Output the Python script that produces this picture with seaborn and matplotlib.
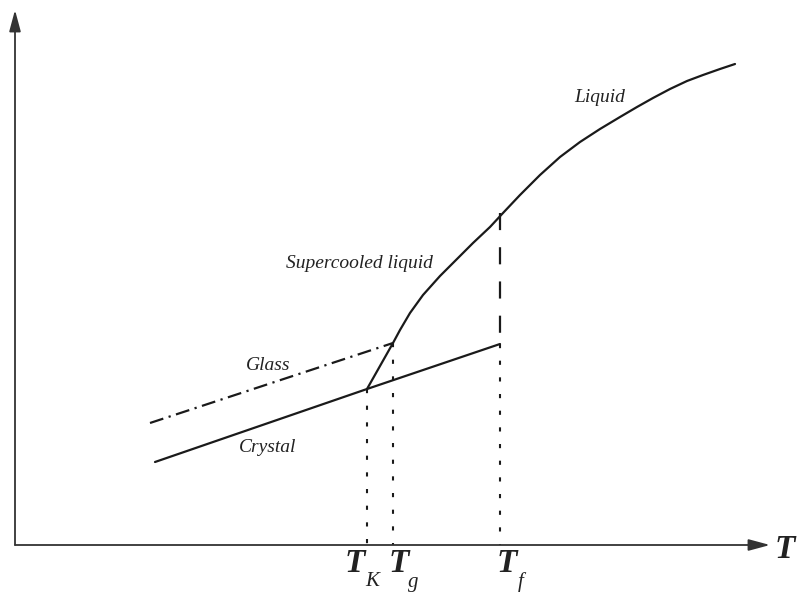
import matplotlib
matplotlib.use("Agg")
import matplotlib.pyplot as plt
import seaborn as sns

# ---- data (schematic volume vs temperature, in plot units) ----
crystal_T = [155, 367, 500]
crystal_V = [132, 205, 250]

glass_T = [150, 393]
glass_V = [171, 251]

liquid_T = [367, 393, 400, 410, 423, 440, 457, 473, 490, 503, 520, 540, 560,
            580, 600, 620, 637, 653, 670, 687, 703, 720, 735]
liquid_V = [205, 251, 264, 281, 299, 318, 335, 351, 367, 381, 399, 419, 437,
            452, 465, 477, 487, 496, 505, 513, 519, 525, 530]

mark_names = ["K", "g", "f"]
mark_T = [367, 393, 500]
mark_V = [205, 251, 250]
tf_liquid_V = 381

axis_V0 = 49
axis_T0 = 15
axis_T_end = 770
axis_V_end = 584

sns.set_style("white")
plt.rcParams['font.family'] = ['Liberation Serif', 'DejaVu Serif']

fig = plt.figure(figsize=(7.99, 5.94), dpi=100)
ax = fig.add_axes([0, 0, 1, 1])
ax.set_xlim(0, 799)
ax.set_ylim(0, 594)
ax.axis("off")

ink = "#1a1a1a"
lw = 1.6
sns.lineplot(x=crystal_T, y=crystal_V, ax=ax, color=ink, lw=lw, sort=False)
sns.lineplot(x=glass_T, y=glass_V, ax=ax, color=ink, lw=lw, sort=False,
             linestyle=(0, (6.3, 2.5, 1, 2.5)))
sns.lineplot(x=liquid_T, y=liquid_V, ax=ax, color=ink, lw=lw, sort=False)

# dotted drop lines
for t, v in zip(mark_T, mark_V):
    ax.plot([t, t], [v, axis_V0], color=ink, lw=1.5, linestyle=(0, (2, 6)))
# dashed line at Tf between liquid and crystal
ax.plot([mark_T[2], mark_T[2]], [tf_liquid_V, mark_V[2]], color=ink, lw=1.6,
        linestyle=(0, (7.7, 7.7)))

# axes arrows
arrow = dict(arrowstyle="-|>,head_length=1.3,head_width=0.35", lw=1.3, color="#333333",
             shrinkA=0, shrinkB=0)
ax.annotate("", xy=(axis_T_end, axis_V0), xytext=(axis_T0, axis_V0), arrowprops=arrow)
ax.annotate("", xy=(axis_T0, axis_V_end), xytext=(axis_T0, axis_V0), arrowprops=arrow)

# labels
fam = ['Liberation Serif', 'DejaVu Serif']
ax.text(785, 45, "T", fontsize=24, ha="center", va="center", weight="bold",
        style="italic", family=fam, color="#222222")
t_dx = [-12, 6, 7]
sub_dx = [17, 14, 14]
for name, t, dx, sdx in zip(mark_names, mark_T, t_dx, sub_dx):
    ax.text(t + dx, 30, "T", fontsize=24, ha="center", va="center", weight="bold",
            style="italic", family=fam, color="#222222")
    ax.text(t + dx + sdx, 12, name, fontsize=15, ha="center", va="center",
            style="italic", family=fam, color="#222222")

lab = dict(fontsize=14, ha="center", va="center", style="italic", family=fam, color="#222222")
ax.text(600, 497, "Liquid", **lab)
ax.text(359, 331, "Supercooled liquid", **lab)
ax.text(268, 228, "Glass", **lab)
ax.text(268, 147, "Crystal", **lab)

fig.savefig("out.png", dpi=100)
